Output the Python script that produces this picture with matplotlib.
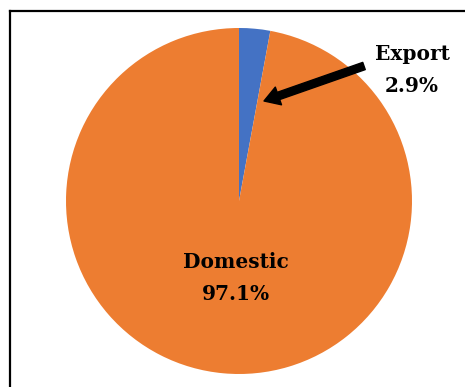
import matplotlib
matplotlib.use("Agg")
import matplotlib.pyplot as plt
from matplotlib.lines import Line2D

labels = ["Export", "Domestic"]
shares = [2.9, 97.1]
colors = ["#4472C4", "#ED7D31"]

fig = plt.figure(figsize=(4.65, 3.87), dpi=100)
W, H = 465, 387

# pie centred at (239, 201) px, radius ~173 px
r = 173
ax = fig.add_axes([(239 - r) / W, 1 - (201 + r) / H, 2 * r / W, 2 * r / H])
ax.pie(shares, colors=colors, startangle=90, counterclock=False,
       wedgeprops=dict(linewidth=0))
ax.set_xlim(-1, 1)
ax.set_ylim(-1, 1)
ax.set_aspect("equal")
ax.axis("off")

font = dict(family="DejaVu Serif", fontsize=14.5, fontweight="bold", color="black")

# domestic label inside
ax.text(-0.02, -0.445, f"{labels[1]}\n{shares[1]}%", ha="center", va="center",
        linespacing=1.75, **font)

# export label outside with arrow
fig.text(412 / W, 1 - 70 / H, f"{labels[0]}\n{shares[0]}%", ha="center", va="center",
         linespacing=1.75, **font)
ax.annotate("", xy=((264 - 239) / r, (201 - 101) / r),
            xytext=((364 - 239) / r, (201 - 66) / r),
            arrowprops=dict(arrowstyle="simple,head_length=1.1,head_width=1.35,tail_width=0.55",
                            color="black", shrinkA=0, shrinkB=0),
            annotation_clip=False)

# frame: left and top edges
fig.add_artist(Line2D([9.5 / W, 9.5 / W], [0, 1 - 10.5 / H], color="black", lw=1.6))
fig.add_artist(Line2D([9.5 / W, 1], [1 - 10.5 / H, 1 - 10.5 / H], color="black", lw=1.6))

fig.savefig("out.png", dpi=100)
